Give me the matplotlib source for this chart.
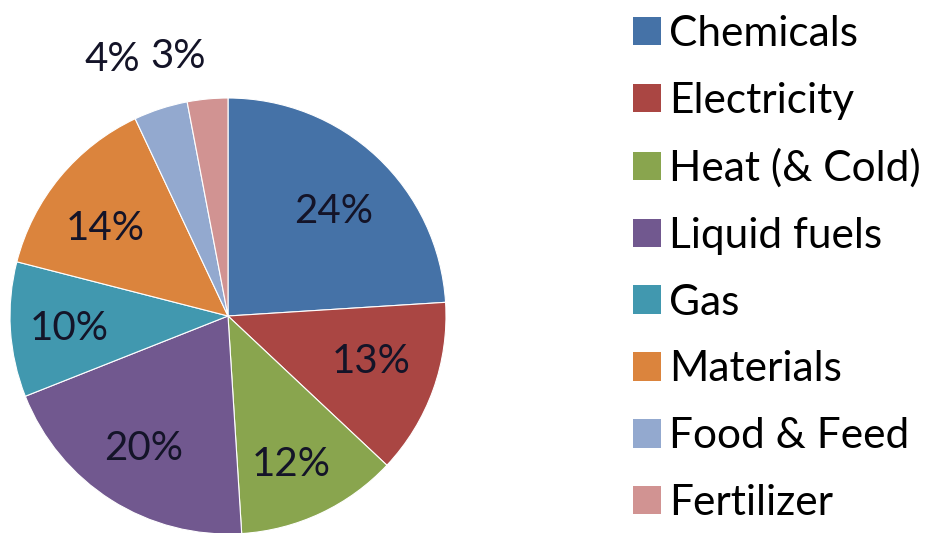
import numpy as np
import matplotlib
matplotlib.use("Agg")
import matplotlib.pyplot as plt
from matplotlib.patches import Patch

categories = ["Chemicals", "Electricity", "Heat (& Cold)", "Liquid fuels",
              "Gas", "Materials", "Food & Feed", "Fertilizer"]
shares = [24, 13, 12, 20, 10, 14, 4, 3]
colors = ["#4572A7", "#AA4643", "#89A54E", "#71588F",
          "#4198AF", "#DB843D", "#93A9CF", "#D19392"]
# label placement: distance from centre (fraction of radius) and angle nudge
label_r = [0.68, 0.69, 0.74, 0.72, 0.73, 0.69, 1.29, 1.21]
label_dang = [-2, 2, -2, 0, 1, 4, 6.4, 5.5]

plt.rcParams["font.family"] = ["Lato", "DejaVu Sans"]

W, H = 936, 533
fig = plt.figure(figsize=(W / 100, H / 100), dpi=100)
# pie centre ~ (228, 316) px, radius ~ 218 px
cx, cy, R = 228, 316, 218
ax = fig.add_axes([(cx - R) / W, (H - cy - R) / H, 2 * R / W, 2 * R / H])

wedges, _ = ax.pie(shares, colors=colors, startangle=90, counterclock=False,
                   radius=1.0,
                   wedgeprops=dict(edgecolor="white", linewidth=0.8))
ax.set_xlim(-1, 1)
ax.set_ylim(-1, 1)
ax.set_aspect("equal")
ax.axis("off")

for w, v, r, da in zip(wedges, shares, label_r, label_dang):
    ang = np.deg2rad((w.theta1 + w.theta2) / 2 + da)
    ax.text(r * np.cos(ang), r * np.sin(ang), f"{v}%", ha="center",
            va="center", fontsize=29, color="#141428", clip_on=False)

handles = [Patch(facecolor=c, edgecolor="none") for c in colors]
fig.legend(handles, categories, loc="upper left",
           bbox_to_anchor=(616 / W, 1.0 + 2 / H), frameon=False,
           fontsize=30.5,
           handlelength=0.66, handleheight=0.66, handletextpad=0.2,
           labelspacing=0.68, borderaxespad=0.0)

fig.savefig("out.png", dpi=100)
